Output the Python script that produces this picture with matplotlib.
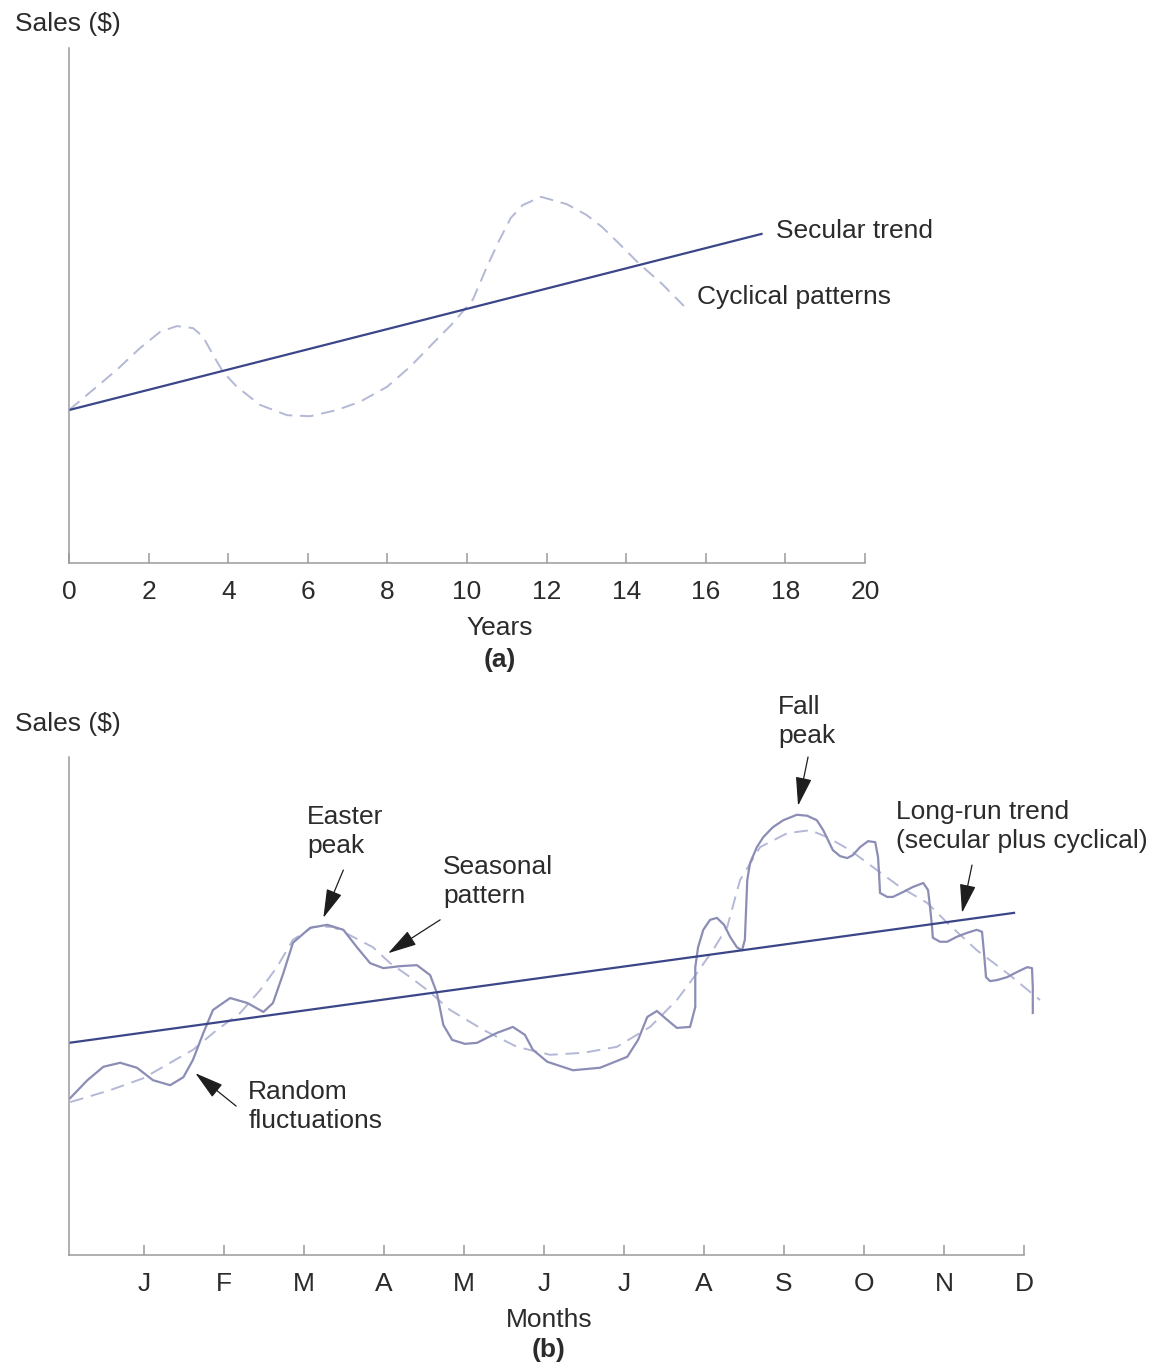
import matplotlib
matplotlib.use("Agg")
import matplotlib.pyplot as plt

plt.rcParams['font.family'] = ['Liberation Sans', 'DejaVu Sans']

# --- panel (a): years ---
annees = [0, 2, 4, 6, 8, 10, 12, 14, 16, 18, 20]
tendance_x = [0, 17.4]
tendance_y = [29.7, 63.9]
cycle_x = [0, 0.6, 1.2, 1.78, 2.29, 2.71, 3.12, 3.37, 3.62, 3.87, 4.22, 4.8, 5.48,
           6.06, 6.73, 7.31, 7.99, 8.57, 9.15, 9.65, 10.15, 10.5, 10.8, 11.1, 11.4,
           11.86, 12.5, 13.0, 13.4, 13.85, 14.3, 14.9, 15.45]
cycle_y = [29.7, 33.6, 37.5, 41.7, 44.9, 46.0, 45.6, 43.9, 40.4, 37.1, 34.2, 30.7, 28.7,
           28.5, 29.7, 31.3, 34.2, 38.1, 42.7, 46.6, 51.2, 57.5, 62.5, 67.0, 69.5,
           71.1, 69.7, 67.6, 65.2, 61.8, 58.3, 54.2, 49.9]

# --- panel (b): months ---
mois = ['J', 'F', 'M', 'A', 'M', 'J', 'J', 'A', 'S', 'O', 'N', 'D']
long_x = [0.06, 11.875]
long_y = [42.6, 68.7]
saison_x = [0.075, 0.575, 0.99, 1.325, 1.61, 1.91, 2.2, 2.45, 2.66, 2.86, 3.11, 3.36,
            3.61, 3.86, 4.075, 4.325, 4.54, 4.825, 5.24, 5.66, 6.075, 6.49, 6.91, 7.325,
            7.66, 7.91, 8.11, 8.29, 8.45, 8.7, 9.04, 9.325, 9.54, 9.825, 10.11, 10.45,
            10.79, 11.04, 11.41, 11.79, 12.2]
saison_y = [30.7, 33.1, 35.5, 38.6, 41.2, 45.2, 48.6, 53.2, 57.8, 63.3, 65.9, 65.9,
            63.9, 61.8, 58.6, 55.8, 53.2, 49.2, 45.2, 41.8, 40.2, 40.6, 41.8, 45.8,
            51.2, 56.6, 61.2, 65.9, 75.3, 81.9, 84.7, 85.3, 83.9, 81.3, 77.9, 73.9,
            70.7, 66.7, 61.2, 56.6, 51.2]
ventes_x = [0.075, 0.29, 0.49, 0.7, 0.91, 1.11, 1.325, 1.49, 1.61, 1.74, 1.86, 2.075,
            2.29, 2.49, 2.61, 2.74, 2.86, 3.075, 3.29, 3.49, 3.66, 3.825, 3.99, 4.2,
            4.41, 4.575, 4.66, 4.74, 4.85, 5.01, 5.16, 5.41, 5.61, 5.76, 5.86, 6.04,
            6.36, 6.7, 7.04, 7.175, 7.29, 7.41, 7.54, 7.66, 7.825, 7.89, 7.89, 7.925,
            7.99, 8.075, 8.16, 8.25, 8.325, 8.41, 8.475, 8.51, 8.525, 8.54, 8.575, 8.66,
            8.74, 8.86, 8.99, 9.16, 9.29, 9.41, 9.49, 9.55, 9.61, 9.7, 9.79, 9.86,
            9.95, 10.05, 10.14, 10.175, 10.19, 10.2, 10.29, 10.36, 10.49, 10.61, 10.74,
            10.8, 10.825, 10.85, 10.86, 10.95, 11.04, 11.16, 11.29, 11.41, 11.475, 11.5,
            11.525, 11.575, 11.66, 11.79, 11.91, 12.04, 12.1, 12.11, 12.11]
ventes_y = [31.5, 35.1, 37.8, 38.6, 37.6, 35.1, 34.1, 35.7, 39.2, 44.6, 49.2, 51.6,
            50.6, 48.8, 50.6, 56.6, 62.7, 65.7, 66.3, 65.3, 61.8, 58.6, 57.6, 58.0,
            58.2, 56.2, 52.6, 46.2, 43.2, 42.4, 42.6, 44.6, 45.8, 44.2, 41.2, 38.8,
            37.1, 37.6, 39.8, 43.2, 47.8, 49.0, 47.2, 45.6, 45.8, 49.8, 57.8, 61.8,
            65.3, 67.3, 67.7, 66.3, 63.9, 61.8, 61.2, 63.3, 69.3, 75.3, 78.7, 81.9,
            83.9, 85.9, 87.3, 88.4, 88.2, 87.3, 85.3, 83.3, 81.3, 80.1, 79.7, 80.3,
            81.9, 83.1, 82.9, 79.9, 75.9, 72.7, 71.9, 71.9, 72.9, 73.9, 74.7,
            73.3, 69.9, 65.9, 63.7, 62.9, 62.9, 63.9, 64.7, 65.3, 64.9, 60.6,
            55.8, 55.0, 55.2, 55.8, 56.8, 57.8, 57.6, 53.8, 48.6]

c_tendance = '#3b4688'
c_ventes = '#8b8db5'
c_pointille = '#b3b8d6'
c_axe = '#9a9a9a'
c_texte = '#2b2b2b'
taille = 19

W, H = 1151, 1364
fig = plt.figure(figsize=(W / 100, H / 100), dpi=100)


def cadre(ax):
    for s in ['top', 'right']:
        ax.spines[s].set_visible(False)
    for s in ['left', 'bottom']:
        ax.spines[s].set_color(c_axe)
        ax.spines[s].set_linewidth(1.1)
    ax.tick_params(axis='x', direction='in', length=7, width=1.1, color=c_axe,
                   pad=12, labelsize=taille, labelcolor=c_texte)
    ax.set_yticks([])
    ax.set_ylim(0, 100)


# (a)
ax1 = fig.add_axes([69 / W, 1 - 563 / H, (865 - 69) / W, (563 - 48) / H])
cadre(ax1)
ax1.set_xlim(0, 20)
ax1.set_xticks(annees)
ax1.plot(cycle_x, cycle_y, color=c_pointille, lw=1.4, dashes=(7, 4))
ax1.plot(tendance_x, tendance_y, color=c_tendance, lw=1.6)
ax1.text(17.76, 64.5, 'Secular trend', fontsize=taille, color=c_texte, va='center')
ax1.text(15.78, 51.7, 'Cyclical patterns', fontsize=taille, color=c_texte, va='center')
fig.text(15 / W, 1 - 24 / H, 'Sales ($)', fontsize=taille, color=c_texte, va='center')
fig.text(500 / W, 1 - 628 / H, 'Years', fontsize=taille, color=c_texte, ha='center', va='center')
fig.text(500 / W, 1 - 660 / H, '(a)', fontsize=taille, color=c_texte, ha='center', va='center',
         fontweight='bold')

# (b)
ax2 = fig.add_axes([69 / W, 1 - 1255 / H, (1048 - 69) / W, (1255 - 757) / H])
cadre(ax2)
ax2.set_xlim(0.06, 12.3)
ax2.spines['bottom'].set_bounds(0.06, 12)
ax2.set_xticks(range(1, 13))
ax2.set_xticklabels(mois)
ax2.plot(saison_x, saison_y, color=c_pointille, lw=1.4, dashes=(7, 4))
ax2.plot(ventes_x, ventes_y, color=c_ventes, lw=1.6, solid_joinstyle='round')
ax2.plot(long_x, long_y, color=c_tendance, lw=1.6)

fleche = dict(arrowstyle='-|>,head_length=1.0,head_width=0.28', color='#1e1e1e', lw=0.9,
              shrinkA=0, shrinkB=0, mutation_scale=18)
notes = [
    ('Easter\npeak', (3.04, 85.0), (3.49, 77.3), (3.24, 67.7)),
    ('Seasonal\npattern', (4.74, 75.0), (4.70, 67.3), (4.05, 60.6)),
    ('Random\nfluctuations', (2.30, 29.8), (2.15, 29.9), (1.64, 36.5)),
    ('Fall\npeak', (8.925, 107.1), (9.30, 100.0), (9.175, 90.2)),
    ('Long-run trend\n(secular plus cyclical)', (10.4, 86.0), (11.35, 78.3), (11.225, 68.7)),
]
for texte, pos, depart, pointe in notes:
    ax2.text(pos[0], pos[1], texte, fontsize=taille, color=c_texte, va='center',
             linespacing=1.25, clip_on=False)
    ax2.annotate('', xy=pointe, xytext=depart, arrowprops=fleche, annotation_clip=False)

fig.text(15 / W, 1 - 724 / H, 'Sales ($)', fontsize=taille, color=c_texte, va='center')
fig.text(549 / W, 1 - 1320 / H, 'Months', fontsize=taille, color=c_texte, ha='center', va='center')
fig.text(549 / W, 1 - 1350 / H, '(b)', fontsize=taille, color=c_texte, ha='center', va='center',
         fontweight='bold')

fig.savefig('out.png', dpi=100, facecolor='white')
